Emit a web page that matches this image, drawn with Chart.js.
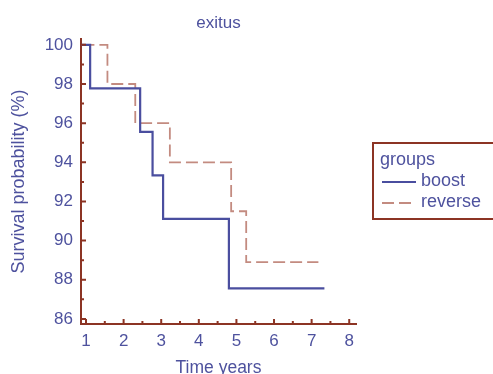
<!DOCTYPE html>
<html>
<head>
<meta charset="utf-8">
<script src="https://cdn.jsdelivr.net/npm/chart.js@4/dist/chart.umd.min.js"></script>
<style>
html,body{margin:0;padding:0;background:#fff;}
#wrap{width:493px;height:374px;position:relative;}
</style>
</head>
<body>
<div id="wrap"><canvas id="c" width="493" height="374"></canvas></div>
<script>
// Data (Kaplan-Meier steps)
const boostTime = [0, 1.11, 2.44, 2.77, 3.05, 4.80, 7.34];
const boostSurv = [100, 97.78, 95.56, 93.33, 91.11, 87.56, 87.56];
const reverseTime = [0, 1.57, 2.31, 3.23, 4.86, 5.26, 7.18];
const reverseSurv = [100, 98.0, 96.0, 94.0, 91.5, 88.9, 88.9];
const xTicks = [1, 2, 3, 4, 5, 6, 7, 8];
const yTicks = [86, 88, 90, 92, 94, 96, 98, 100];
const seriesNames = ['boost', 'reverse'];
const legendTitle = 'groups';
const chartTitle = 'exitus';

const TEXT = '#4e529e';
const AXIS = '#8c3424';
const BLUE = '#4a4e9f';
const RED = '#c38b80';
const FONT = "'Liberation Sans', Arial, sans-serif";

const toPts = (t, s) => t.map((v, i) => ({x: v, y: s[i]}));

const tickPlugin = {
  id: 'innerTicks',
  afterDraw(chart) {
    const ctx = chart.ctx;
    const xs = chart.scales.x, ys = chart.scales.y;
    const a = chart.chartArea;
    ctx.save();
    // title centred over plot area
    ctx.fillStyle = TEXT;
    ctx.font = '17px ' + FONT;
    ctx.textAlign = 'center';
    ctx.textBaseline = 'middle';
    ctx.fillText(chartTitle, (a.left + a.right) / 2, 23);

    ctx.strokeStyle = AXIS;
    ctx.lineWidth = 2;
    ctx.beginPath();
    xTicks.forEach(v => { const p = xs.getPixelForValue(v); ctx.moveTo(p, a.bottom); ctx.lineTo(p, a.bottom - 5); });
    for (let i = 0; i < xTicks.length - 1; i++) { const p = xs.getPixelForValue((xTicks[i] + xTicks[i+1]) / 2); ctx.moveTo(p, a.bottom); ctx.lineTo(p, a.bottom - 3); }
    yTicks.forEach(v => { const p = ys.getPixelForValue(v); ctx.moveTo(a.left, p); ctx.lineTo(a.left + 5, p); });
    for (let i = 0; i < yTicks.length - 1; i++) { const p = ys.getPixelForValue((yTicks[i] + yTicks[i+1]) / 2); ctx.moveTo(a.left, p); ctx.lineTo(a.left + 3, p); }
    ctx.stroke();

    // legend box
    const bx = 373, by = 143, bw = 124, bh = 76;
    ctx.lineWidth = 2;
    ctx.strokeRect(bx, by, bw, bh);
    ctx.fillStyle = TEXT;
    ctx.font = '18px ' + FONT;
    ctx.textBaseline = 'middle';
    ctx.textAlign = 'left';
    ctx.fillText(legendTitle, 380, 160);
    chart.data.datasets.forEach((ds, i) => {
      const y = 181 + i * 21;
      ctx.strokeStyle = ds.borderColor;
      ctx.lineWidth = ds.borderWidth;
      ctx.setLineDash(ds.borderDash || []);
      ctx.beginPath();
      ctx.moveTo(382, y + 1); ctx.lineTo(416, y + 1);
      ctx.stroke();
      ctx.setLineDash([]);
      ctx.fillText(ds.label, 421, y);
    });
    ctx.restore();
  }
};

new Chart(document.getElementById('c'), {
  type: 'line',
  data: {
    datasets: [
      {label: seriesNames[0], data: toPts(boostTime, boostSurv), stepped: 'before', borderColor: BLUE, borderWidth: 2.2, pointRadius: 0, fill: false},
      {label: seriesNames[1], data: toPts(reverseTime, reverseSurv), stepped: 'before', borderColor: RED, borderWidth: 1.8, borderDash: [12, 5], pointRadius: 0, fill: false}
    ]
  },
  options: {
    responsive: false,
    animation: false,
    events: [],
    layout: {padding: {left: 0, right: 137, top: 39, bottom: 0}},
    plugins: {
      legend: {display: false},
      tooltip: {enabled: false},
      title: {display: false}
    },
    scales: {
      x: {
        type: 'linear', min: 0.867, max: 8.18,
        afterBuildTicks: s => { s.ticks = xTicks.map(v => ({value: v})); },
        afterFit: s => { s.height = 50; },
        grid: {display: false, drawTicks: false},
        border: {display: true, color: AXIS, width: 2},
        ticks: {color: TEXT, font: {family: FONT, size: 17}, padding: 7, maxRotation: 0, autoSkip: false},
        title: {display: true, text: 'Time years', color: TEXT, font: {family: FONT, size: 17.5, lineHeight: 1.0}, padding: {top: 0, bottom: -3}}
      },
      y: {
        type: 'linear', min: 85.74, max: 100.3,
        afterBuildTicks: s => { s.ticks = yTicks.map(v => ({value: v})); },
        afterFit: s => { s.width = 81; },
        grid: {display: false, drawTicks: false},
        border: {display: true, color: AXIS, width: 2},
        ticks: {color: TEXT, font: {family: FONT, size: 17}, padding: 8, autoSkip: false},
        title: {display: true, text: 'Survival probability (%)', color: TEXT, font: {family: FONT, size: 18, lineHeight: 1.2}, padding: {top: 8, bottom: 0}}
      }
    }
  },
  plugins: [tickPlugin]
});
</script>
</body>
</html>
